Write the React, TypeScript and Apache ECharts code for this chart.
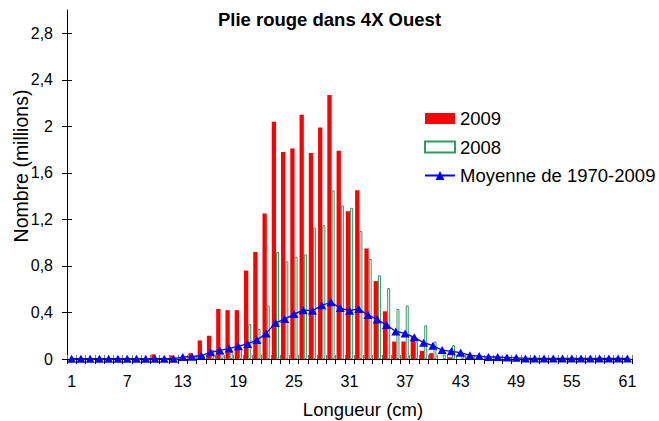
import React, { useEffect, useRef } from "react";
import * as echarts from "echarts";

const categories: string[] = Array.from({ length: 61 }, (_, i) => String(i + 1));

const series2009: number[] = [
  0, 0, 0, 0, 0, 0, 0, 0, 0, 0.04,
  0, 0.03, 0, 0.05, 0.16, 0.2, 0.43, 0.42, 0.42, 0.76,
  0.92, 1.25, 2.04, 1.78, 1.81, 2.1, 1.77, 1.99, 2.27, 1.79,
  1.27, 1.45, 0.95, 0.67, 0.41, 0.15, 0.15, 0.19, 0.07, 0.05,
  0, 0.015, 0, 0, 0, 0, 0, 0, 0, 0,
  0, 0, 0, 0, 0, 0, 0, 0, 0, 0,
  0,
];

const series2008: number[] = [
  0, 0, 0, 0, 0, 0, 0, 0, 0, 0,
  0, 0, 0.01, 0.02, 0.03, 0.08, 0.05, 0.06, 0.1, 0.3,
  0.26, 0.46, 0.92, 0.84, 0.88, 0.9, 1.13, 1.15, 1.45, 1.32,
  1.3, 1.1, 0.86, 0.72, 0.61, 0.43, 0.46, 0.15, 0.29, 0.15,
  0.04, 0.12, 0.03, 0.02, 0, 0, 0, 0, 0, 0,
  0, 0, 0, 0, 0, 0, 0, 0, 0, 0,
  0,
];

const seriesMean: number[] = [
  0.003, 0.003, 0.003, 0.003, 0.003, 0.003, 0.003, 0.003, 0.003, 0.003,
  0.003, 0.003, 0.017, 0.02, 0.03, 0.057, 0.074, 0.09, 0.11, 0.13,
  0.163, 0.22, 0.31, 0.343, 0.386, 0.42, 0.415, 0.462, 0.487, 0.438,
  0.415, 0.43, 0.378, 0.34, 0.292, 0.237, 0.22, 0.186, 0.14, 0.114,
  0.077, 0.066, 0.054, 0.032, 0.025, 0.017, 0.017, 0.012, 0.01, 0.005,
  0.005, 0.005, 0.005, 0.005, 0.005, 0.005, 0.005, 0.005, 0.005, 0.005,
  0.005,
];

const yTicks: number[] = [0, 0.4, 0.8, 1.2, 1.6, 2, 2.4, 2.8];

const FONT = 'Arial, "Liberation Sans", sans-serif';

export default function App() {
  const ref = useRef<HTMLDivElement>(null);
  useEffect(() => {
    if (!ref.current) return;
    const chart = echarts.init(ref.current, null, { renderer: "svg" });
    const fmt = (v: number) => String(v).replace(".", ",");
    chart.setOption({
      animation: false,
      backgroundColor: "#ffffff",
      textStyle: { fontFamily: FONT, color: "#000" },
      title: {
        text: "Plie rouge dans 4X Ouest",
        left: "center",
        top: 10,
        padding: 0,
        textStyle: { fontFamily: FONT, fontSize: 18.5, fontWeight: "bold", color: "#000" },
      },
      legend: {
        orient: "vertical",
        left: 424,
        top: 109,
        itemWidth: 30,
        itemHeight: 11,
        itemGap: 9.5,
        padding: 0,
        textStyle: { fontFamily: FONT, fontSize: 18.5, color: "#000", lineHeight: 19 },
        data: [
          { name: "2009", icon: "rect" },
          { name: "2008", icon: "rect" },
          { name: "Moyenne de 1970-2009" },
        ],
      },
      grid: { left: 67, right: 27, top: 10, bottom: 62, containLabel: false },
      xAxis: [
        {
          type: "category",
          data: categories,
          position: "bottom",
          boundaryGap: true,
          axisLine: { show: true, lineStyle: { color: "#000", width: 1 } },
          axisTick: { show: true, interval: 0, length: 5, inside: false, lineStyle: { color: "#000" } },
          axisLabel: { interval: 5, margin: 14, fontSize: 16, color: "#000", fontFamily: FONT },
          splitLine: { show: false },
        },
        {
          type: "category",
          data: categories,
          position: "bottom",
          boundaryGap: true,
          axisLine: { show: false },
          axisTick: { show: true, interval: 0, length: 4, inside: true, lineStyle: { color: "#777" } },
          axisLabel: { show: false },
          splitLine: { show: false },
        },
      ],
      yAxis: [
        {
          type: "value",
          min: 0,
          max: 3,
          position: "left",
          axisLine: { show: true, lineStyle: { color: "#000", width: 1 } },
          axisTick: { show: true, length: 5, inside: false, customValues: yTicks, lineStyle: { color: "#000" } },
          axisLabel: { customValues: yTicks, margin: 14, fontSize: 16, color: "#000", fontFamily: FONT, formatter: fmt },
          splitLine: { show: false },
        },
        {
          type: "value",
          min: 0,
          max: 3,
          position: "left",
          axisLine: { show: false },
          axisTick: { show: true, length: 5, inside: true, customValues: yTicks, lineStyle: { color: "#000" } },
          axisLabel: { show: false },
          splitLine: { show: false },
        },
      ],
      graphic: [
        {
          type: "text",
          x: 363,
          y: 409,
          style: {
            text: "Longueur (cm)",
            fontFamily: FONT,
            fontSize: 18.5,
            fill: "#000",
            textAlign: "center",
            textVerticalAlign: "middle",
          },
        },
        {
          type: "text",
          x: 21,
          y: 166,
          rotation: Math.PI / 2,
          style: {
            text: "Nombre (millions)",
            fontFamily: FONT,
            fontSize: 19.5,
            fill: "#000",
            textAlign: "center",
            textVerticalAlign: "middle",
          },
        },
      ],
      series: [
        {
          name: "2009",
          type: "bar",
          xAxisIndex: 0,
          yAxisIndex: 0,
          data: series2009,
          barWidth: 4.3,
          barGap: "0%",
          itemStyle: { color: "#ff0000" },
        },
        {
          name: "2008",
          type: "bar",
          xAxisIndex: 0,
          yAxisIndex: 0,
          data: series2008,
          barWidth: 3,
          itemStyle: { color: "#ffffff", borderColor: "#339966", borderWidth: 1 },
        },
        {
          name: "Moyenne de 1970-2009",
          type: "line",
          xAxisIndex: 0,
          yAxisIndex: 0,
          data: seriesMean,
          symbol: "triangle",
          symbolSize: [9, 8],
          showSymbol: true,
          showAllSymbol: true,
          clip: false,
          lineStyle: { color: "#0000ff", width: 1.3 },
          itemStyle: { color: "#0000ff" },
        },
      ],
    });
    return () => chart.dispose();
  }, []);
  return (
    <div
      ref={ref}
      style={{ position: "fixed", left: 0, top: 0, width: 659, height: 421, background: "#fff" }}
    />
  );
}
